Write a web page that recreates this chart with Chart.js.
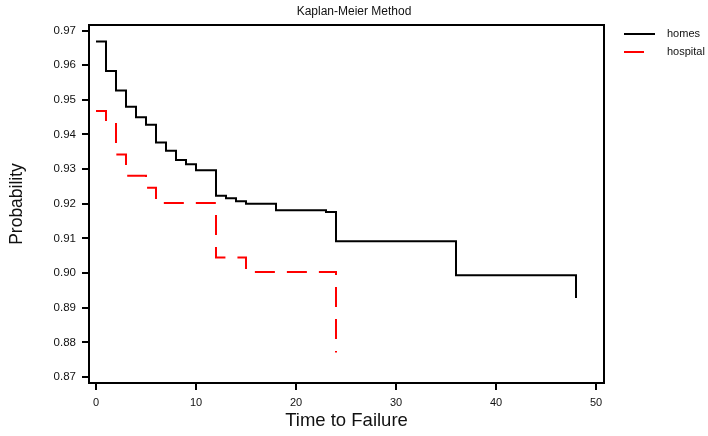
<!DOCTYPE html>
<html>
<head>
<meta charset="utf-8">
<script src="https://cdn.jsdelivr.net/npm/chart.js@4.4.1/dist/chart.umd.min.js"></script>
<style>
  html, body { margin: 0; padding: 0; background: #fff; }
  #kmChart { display: block; }
</style>
</head>
<body>
<canvas id="kmChart" width="708" height="436"></canvas>
<script>
// Kaplan-Meier estimates (value after each step)
const homesTime = [0, 1, 2, 3, 4, 5, 6, 7, 8, 9, 10, 12, 13, 14, 15, 18, 23, 24, 36, 48];
const homesSurv = [0.9668, 0.9583, 0.9527, 0.9480, 0.9450, 0.9428, 0.9377, 0.9353, 0.9326, 0.9314,
                   0.9297, 0.9223, 0.9216, 0.9207, 0.9200, 0.9181, 0.9176, 0.9092, 0.8994, 0.8928];

const hospitalTime = [0, 1, 2, 3, 5, 6, 12, 15, 24];
const hospitalSurv = [0.9468, 0.9437, 0.9342, 0.9281, 0.9246, 0.9202, 0.9045, 0.9003, 0.8771];

const xTicks = [0, 10, 20, 30, 40, 50];
const yTicks = [0.87, 0.88, 0.89, 0.90, 0.91, 0.92, 0.93, 0.94, 0.95, 0.96, 0.97];

const seriesNames = ['homes', 'hospital'];

const FONT = '"Liberation Sans", Arial, sans-serif';

function toPoints(times, values) {
    return times.map((t, i) => ({ x: t, y: values[i] }));
}

// frame, title and legend drawn on top of the chart
const framePlugin = {
    id: 'frame',
    afterDraw(chart) {
        const { ctx, chartArea: a } = chart;
        ctx.save();
        ctx.strokeStyle = '#000';
        ctx.lineWidth = 2;
        ctx.strokeRect(a.left, a.top, a.right - a.left, a.bottom - a.top);

        ctx.fillStyle = '#111';
        ctx.font = '12px ' + FONT;
        ctx.textAlign = 'center';
        ctx.textBaseline = 'middle';
        ctx.fillText('Kaplan-Meier Method', chart.width / 2, 12);

        // legend
        ctx.textAlign = 'left';
        ctx.font = '11px ' + FONT;
        chart.data.datasets.forEach((ds, i) => {
            const y = 34 + i * 18;
            ctx.beginPath();
            ctx.strokeStyle = ds.borderColor;
            ctx.lineWidth = 2;
            ctx.setLineDash(ds.borderDash || []);
            ctx.moveTo(624, y);
            ctx.lineTo(655, y);
            ctx.stroke();
            ctx.setLineDash([]);
            ctx.fillStyle = '#111';
            ctx.fillText(ds.label, 667, y);
        });
        ctx.restore();
    }
};

new Chart(document.getElementById('kmChart'), {
    type: 'line',
    data: {
        datasets: [
            {
                label: seriesNames[0],
                data: toPoints(homesTime, homesSurv),
                borderColor: '#000000',
                borderWidth: 2,
                stepped: 'before',
                pointRadius: 0,
                fill: false
            },
            {
                label: seriesNames[1],
                data: toPoints(hospitalTime, hospitalSurv),
                borderColor: '#ff0000',
                borderWidth: 2,
                borderDash: [20, 12],
                stepped: 'before',
                pointRadius: 0,
                fill: false
            }
        ]
    },
    options: {
        responsive: false,
        animation: false,
        layout: { padding: { top: 25, right: 104, left: 0, bottom: 0 } },
        plugins: {
            legend: { display: false },
            tooltip: { enabled: false }
        },
        scales: {
            x: {
                type: 'linear',
                min: -0.7,
                max: 50.8,
                afterFit: scale => { scale.height = 53; },
                afterBuildTicks: scale => { scale.ticks = xTicks.map(v => ({ value: v })); },
                grid: { drawOnChartArea: false, drawTicks: true, tickLength: 7, color: '#000', lineWidth: 2 },
                border: { display: true, color: '#000', width: 2 },
                ticks: { color: '#111', font: { family: FONT, size: 11 }, padding: 6, maxRotation: 0 },
                title: { display: true, text: 'Time to Failure', color: '#111',
                         font: { family: FONT, size: 18.5 }, padding: { top: 0, bottom: 4 } }
            },
            y: {
                type: 'linear',
                min: 0.86827,
                max: 0.97159,
                afterFit: scale => { scale.width = 89; },
                afterBuildTicks: scale => { scale.ticks = yTicks.map(v => ({ value: v })); },
                grid: { drawOnChartArea: false, drawTicks: true, tickLength: 7, color: '#000', lineWidth: 2 },
                border: { display: true, color: '#000', width: 2 },
                ticks: { color: '#111', font: { family: FONT, size: 11.5 }, padding: 6,
                         callback: v => Number(v).toFixed(2) },
                title: { display: true, text: 'Probability', color: '#111',
                         font: { family: FONT, size: 17.5 }, padding: { top: 7, bottom: 0 } }
            }
        }
    },
    plugins: [framePlugin]
});
</script>
</body>
</html>
